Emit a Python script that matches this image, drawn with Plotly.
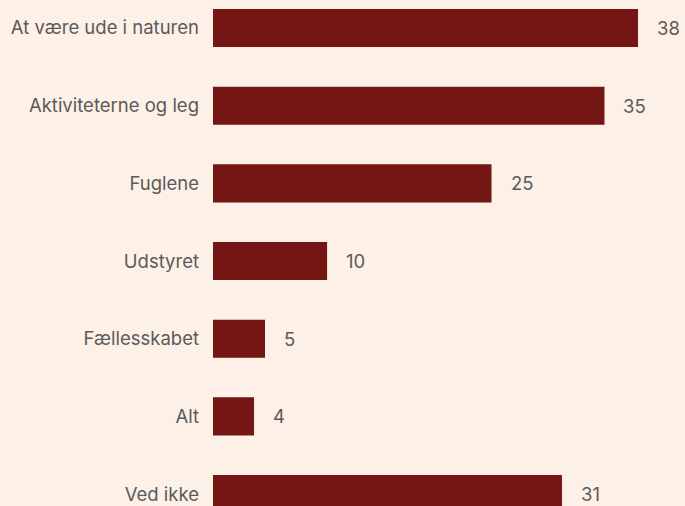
import plotly.graph_objects as go

categories = ["At være ude i naturen", "Aktiviteterne og leg", "Fuglene", "Udstyret",
              "Fællesskabet", "Alt", "Ved ikke"]
values = [38.0, 35.0, 24.9, 10.2, 4.65, 3.67, 31.2]
labels = ["38", "35", "25", "10", "5", "4", "31"]

BG = "#fdf0e7"
BAR = "#731614"
TXT = "#5b5b5b"
FONT = "Inter, Roboto, sans-serif"
FS = 18.5

fig = go.Figure()
fig.add_trace(go.Bar(
    x=values, y=categories, orientation="h",
    marker=dict(color=BAR, line=dict(width=0)),
    width=0.49, hoverinfo="skip",
))
for c, v, t in zip(categories, values, labels):
    fig.add_annotation(x=v, y=c, text=t, showarrow=False,
                       xanchor="left", xshift=17, yanchor="middle",
                       font=dict(family=FONT, size=FS, color=TXT))

fig.update_layout(
    width=685, height=506,
    margin=dict(l=213, r=0, t=0, b=0),
    paper_bgcolor=BG, plot_bgcolor=BG,
    showlegend=False,
    font=dict(family=FONT, size=FS, color=TXT),
    xaxis=dict(range=[0, 42.2], visible=False, fixedrange=True),
    yaxis=dict(type="category", categoryorder="array", categoryarray=categories,
               range=[6.154, -0.3605], showgrid=False, zeroline=False, showline=False,
               ticks="", ticklabelstandoff=13, tickfont=dict(family=FONT, size=FS, color=TXT)),
)

fig.write_html("out.html", config={"displayModeBar": False})

with open("out.html", "r", encoding="utf-8") as f:
    html = f.read()
html = html.replace("<head>", "<head><style>html,body{margin:0;padding:0;overflow:hidden;background:%s;}</style>" % BG, 1)
with open("out.html", "w", encoding="utf-8") as f:
    f.write(html)
